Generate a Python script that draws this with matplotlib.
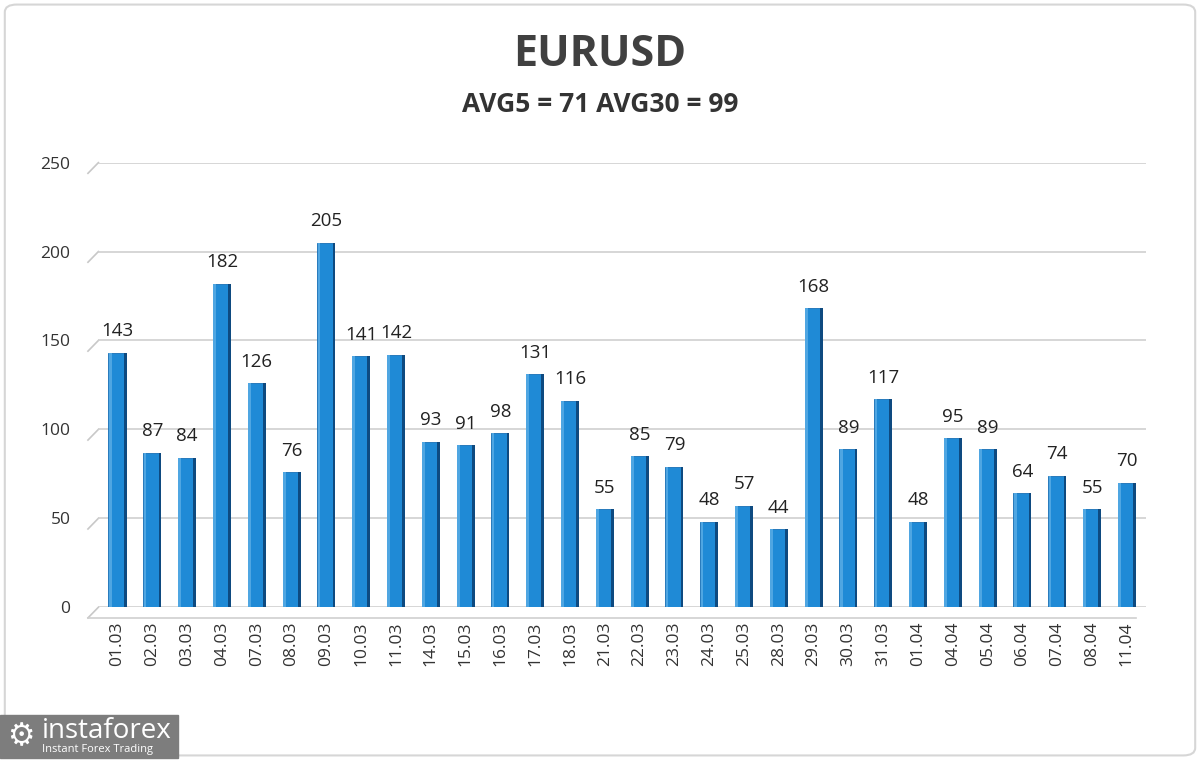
import matplotlib.pyplot as plt
from matplotlib.patches import Rectangle, FancyBboxPatch

# data
dates = ["01.03", "02.03", "03.03", "04.03", "07.03", "08.03", "09.03", "10.03",
         "11.03", "14.03", "15.03", "16.03", "17.03", "18.03", "21.03", "22.03",
         "23.03", "24.03", "25.03", "28.03", "29.03", "30.03", "31.03", "01.04",
         "04.04", "05.04", "06.04", "07.04", "08.04", "11.04"]
values = [143, 87, 84, 182, 126, 76, 205, 141, 142, 93, 91, 98, 131, 116, 55,
          85, 79, 48, 57, 44, 168, 89, 117, 48, 95, 89, 64, 74, 55, 70]
title = "EURUSD"
subtitle = "AVG5 = 71 AVG30 = 99"
yticks = [0, 50, 100, 150, 200, 250]

plt.rcParams['font.family'] = ['Open Sans', 'DejaVu Sans']

fig = plt.figure(figsize=(12, 7.6), dpi=100)
ax = fig.add_axes([0.082, 0.201, 0.873, 0.585])

x = list(range(len(values)))
bw = 0.44
# front face
ax.bar([i - 0.04 for i in x], values, width=bw, color="#1f8ad6",
       edgecolor="#176fb5", linewidth=0.6, zorder=3)
# dark right side face
ax.bar([i + 0.18 + 0.04 for i in x], values, width=0.08, color="#0e4a80",
       linewidth=0, zorder=3)
# light stripe on left of front face
ax.bar([i - 0.21 for i in x], values, width=0.08, color="#4fa6e2",
       linewidth=0, zorder=4)

for i, v in enumerate(values):
    ax.text(i, v + 7, str(v), ha="center", va="bottom", fontsize=13.5,
            color="#222222", zorder=5)

ax.set_xlim(-0.55, len(values) - 0.45)
ax.set_ylim(0, 250)
ax.set_yticks(yticks)
ax.set_xticks(x)
ax.set_xticklabels(dates, rotation=90, fontsize=12.5, color="#333333")
ax.tick_params(axis="y", labelsize=12.5, colors="#333333", length=0, pad=20)
for lbl in ax.get_yticklabels():
    lbl.set_y(lbl.get_position()[1])
ax.tick_params(axis="x", length=0, pad=10)
ax.yaxis.grid(True, color="#d0d0d0", linewidth=1.2, zorder=0)
for s in ax.spines.values():
    s.set_visible(False)

# slanted stubs on the left of each gridline (3D look)
for t in yticks:
    ax.plot([-0.85, -0.55], [t - 6, t], color="#c8c8c8", lw=1.2,
            clip_on=False, zorder=1)
ax.plot([-0.85, len(values) - 0.75], [-6, -6], color="#cfcfcf", lw=1.2,
        clip_on=False, zorder=1)

fig.text(0.5, 0.928, title, ha="center", va="center", fontsize=31,
         fontweight="bold", color="#404040")
fig.text(0.5, 0.862, subtitle, ha="center", va="center", fontsize=19,
         fontweight="bold", color="#333333")

# outer border
fig.patches.append(FancyBboxPatch((0.004, 0.006), 0.992, 0.988,
                                  boxstyle="round,pad=0,rounding_size=0.01",
                                  transform=fig.transFigure, fill=False,
                                  edgecolor="#d6d6d6", linewidth=1.5))

# logo
fig.patches.append(Rectangle((0.0, 0.003), 0.148, 0.056,
                             transform=fig.transFigure, color="#7d7d7d"))
fig.text(0.035, 0.038, "instaforex", fontsize=20, color="white",
         va="center", ha="left")
fig.text(0.035, 0.014, "Instant Forex Trading", fontsize=8, color="white",
         va="center", ha="left")
fig.text(0.017, 0.031, "\u2699", fontsize=22, color="white",
         va="center", ha="center", family=["DejaVu Sans"])

fig.savefig("out.png", dpi=100, facecolor="white")
